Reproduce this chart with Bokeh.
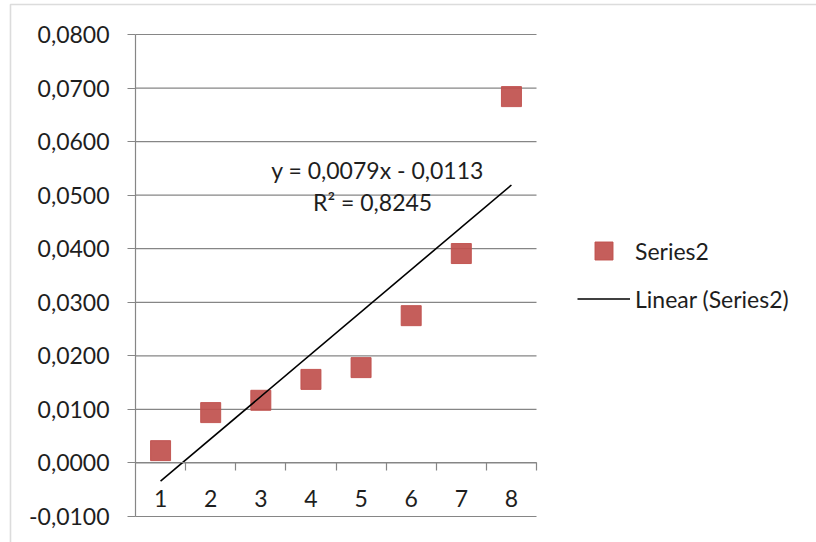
from bokeh.plotting import figure
from bokeh.models import (LinearAxis, FixedTicker, CustomJSTickFormatter, Legend, LegendItem,
                          Label, Range1d, BoxAnnotation)
from bokeh.embed import file_html
from bokeh.resources import INLINE

# ---- data ----
categories = [1, 2, 3, 4, 5, 6, 7, 8]
series2 = [0.0023, 0.0094, 0.0117, 0.0156, 0.0178, 0.0275, 0.0391, 0.0684]
slope = 0.0079
intercept = -0.0113
r_squared = 0.8245
y_ticks = [-0.01, 0.0, 0.01, 0.02, 0.03, 0.04, 0.05, 0.06, 0.07, 0.08]
x_labels = ["1", "2", "3", "4", "5", "6", "7", "8"]

FONT = "Lato"
FS = "23px"
TXT = "#1e1e1e"
GRID = "#868686"

# ---- layout (pixels): plot area 135..536 wide, 34..516 tall; legend to its right ----
W, H = 816, 542
LEFT, RIGHT, TOP, BOTTOM = 135, 536, 34, 516
x0, x1 = categories[0] - 0.5, categories[-1] + 0.5
y0, y1 = y_ticks[0], y_ticks[-1]
ux = (x1 - x0) / (RIGHT - LEFT)
uy = (y1 - y0) / (BOTTOM - TOP)

p = figure(width=W, height=H, output_backend="svg", toolbar_location=None,
           x_range=Range1d(x0 - LEFT * ux, x1 + (W - RIGHT) * ux),
           y_range=Range1d(y0 - (H - BOTTOM) * uy, y1 + TOP * uy),
           x_axis_type=None, y_axis_type=None,
           min_border=0, min_border_left=0, min_border_right=0,
           min_border_top=0, min_border_bottom=0)
p.outline_line_color = None
p.background_fill_color = "white"
p.border_fill_color = "white"
p.xgrid.grid_line_color = None
p.ygrid.grid_line_color = None

# y axis at the left edge of the plot area
ya = LinearAxis(fixed_location=x0, bounds=(y0, y1), ticker=FixedTicker(ticks=y_ticks),
                formatter=CustomJSTickFormatter(code="return tick.toFixed(4).replace('.', ',');"),
                axis_line_color=GRID, axis_line_width=1.2,
                major_tick_line_color=GRID, major_tick_line_width=1.2,
                major_tick_out=8, major_tick_in=0, minor_tick_line_color=None,
                major_label_standoff=18, major_label_text_font=FONT,
                major_label_text_font_size=FS, major_label_text_color=TXT)
p.add_layout(ya, "left")

# horizontal gridlines over the plot area only
p.segment(x0=[x0] * len(y_ticks), x1=[x1] * len(y_ticks), y0=y_ticks, y1=y_ticks,
          line_color=GRID, line_width=1.2)

# x axis at y = 0 (tick marks between categories)
bounds = [c + 0.5 for c in categories]
xa_ticks = LinearAxis(fixed_location=0, ticker=FixedTicker(ticks=bounds), bounds=(x0, x1),
                      formatter=CustomJSTickFormatter(code="return '';"),
                      axis_line_color=GRID, axis_line_width=1.2,
                      major_tick_line_color=GRID, major_tick_line_width=1.2,
                      major_tick_out=8, major_tick_in=0, minor_tick_line_color=None)
p.add_layout(xa_ticks, "below")
xa_labels = LinearAxis(fixed_location=0, ticker=FixedTicker(ticks=categories), bounds=(x0, x1),
                       major_label_overrides={c: l for c, l in zip(categories, x_labels)},
                       axis_line_color=None, major_tick_line_color=None,
                       minor_tick_line_color=None, major_label_standoff=21,
                       major_label_text_font=FONT, major_label_text_font_size=FS,
                       major_label_text_color=TXT)
p.add_layout(xa_labels, "below")

# data
pts = p.scatter(categories, series2, marker="square", size=20,
                fill_color="#C0504D", line_color="#C0504D", fill_alpha=0.92, line_alpha=0.92)

tx = [categories[0], categories[-1]]
ty = [slope * x + intercept for x in tx]
trend = p.line(tx, ty, line_color="black", line_width=1.6)

# equation label
eq1 = "y = " + f"{slope:.4f}".replace(".", ",") + "x - " + f"{-intercept:.4f}".replace(".", ",")
eq2 = "R\u00b2 = " + f"{r_squared:.4f}".replace(".", ",")
p.add_layout(Label(x=5.33, y=0.0547, text=eq1, text_align="center", text_baseline="middle",
                   text_font=FONT, text_font_size=FS, text_color=TXT))
p.add_layout(Label(x=5.23, y=0.0487, text=eq2, text_align="center", text_baseline="middle",
                   text_font=FONT, text_font_size=FS, text_color=TXT))

legend = Legend(items=[LegendItem(label="Series2", renderers=[pts]),
                       LegendItem(label="Linear (Series2)", renderers=[trend])],
                location=(577, H - 321), padding=0, margin=0, spacing=3,
                glyph_width=53, glyph_height=45, label_standoff=5,
                border_line_color=None, background_fill_alpha=0,
                label_text_font=FONT, label_text_font_size=FS, label_text_color=TXT)
p.add_layout(legend, "center")

# outer chart border (only its left and top edges fall inside the picture)
p.add_layout(BoxAnnotation(left=10, right=W + 20, top=H - 4, bottom=-20,
                           left_units="screen", right_units="screen",
                           top_units="screen", bottom_units="screen",
                           fill_color=None, fill_alpha=0, line_color="#8c8c8c", line_width=1.6))

open("out.html", "w").write(file_html(p, INLINE))
